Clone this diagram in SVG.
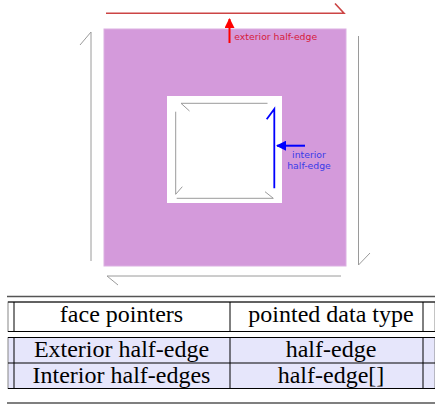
<svg xmlns="http://www.w3.org/2000/svg" width="435" height="405" viewBox="0 0 435 405">
<defs>
<style>
.he{fill:none;stroke:#9a9a9a;stroke-width:1}
.lbl{font-family:"DejaVu Sans",sans-serif;font-size:9.3px}
.tt{font-family:"Liberation Serif",serif;font-size:24px;fill:#000;text-anchor:middle}
.rule{stroke:#555;stroke-width:1.5}
.bx{stroke:#000;stroke-width:1;fill:none}
.bg{stroke:#888;stroke-width:1;fill:none}
</style>
<marker id="ar" viewBox="0 0 10 10" refX="9" refY="5" markerWidth="5" markerHeight="5" orient="auto"><path d="M0,0 L10,5 L0,10 z" fill="#ff0000"/></marker>
<marker id="ab" viewBox="0 0 10 10" refX="9" refY="5" markerWidth="5" markerHeight="5" orient="auto"><path d="M0,0 L10,5 L0,10 z" fill="#0000ff"/></marker>
</defs>
<g id="face">
<rect x="104" y="29" width="242" height="237" fill="#d49adb" stroke="#dcb0e2" stroke-width="1"/>
<rect x="167" y="96" width="115" height="107" fill="#ffffff"/>
</g>
<g id="connectors">
<path id="ext-top" d="M106,13.3 L344,13.3 L335,3.5" fill="none" stroke="#cc4444" stroke-width="1.6"/>
<path id="ext-left" class="he" d="M80,45 L91,32 L91,261"/>
<path id="ext-bottom" class="he" d="M118,285 L107,276 L341,276"/>
<path id="ext-right" class="he" d="M358.5,36 L358.5,265 L370,253"/>
<path id="int-top" class="he" d="M189.5,111 L181,103.3 L267.5,103.3"/>
<path id="int-left" class="he" d="M175.7,111.7 L175.7,194.3 L182.3,186.7"/>
<path id="int-bottom" class="he" d="M176.7,198.3 L273.3,198.3 L265,191.7"/>
<path id="int-right" d="M274.3,188.3 L274.3,109 L266.7,119.3" fill="none" stroke="#0000ff" stroke-width="1.8"/>
<line x1="229.5" y1="43" x2="229.5" y2="19" stroke="#ff0000" stroke-width="2" marker-end="url(#ar)"/>
<line x1="305" y1="145.7" x2="277" y2="145.7" stroke="#0000ff" stroke-width="2" marker-end="url(#ab)"/>
</g>
<g id="labels">
<text class="lbl" x="234.3" y="39.5" fill="#d61a3c">exterior half-edge</text>
<text class="lbl" x="309" y="157.5" fill="#3a3ae8" text-anchor="middle">interior</text>
<text class="lbl" x="309" y="169" fill="#3a3ae8" text-anchor="middle">half-edge</text>
</g>
<g id="table">
<line class="rule" x1="7" y1="296.5" x2="435" y2="296.5"/>
<rect x="8" y="302" width="427" height="29.5" fill="#ffffff" stroke="#888"/>
<line class="bx" x1="14" y1="302" x2="14" y2="331.5"/>
<line class="bx" x1="8" y1="302" x2="435" y2="302"/>
<line class="bx" x1="8" y1="331.5" x2="435" y2="331.5"/>
<line class="bx" x1="230" y1="302" x2="230" y2="331.5"/>
<line class="bx" x1="423" y1="302" x2="423" y2="331.5"/>
<rect x="8" y="337.5" width="427" height="51" fill="#e6e6fb" stroke="#888"/>
<line class="bx" x1="14" y1="337.5" x2="14" y2="388.5"/>
<line class="bx" x1="8" y1="337.5" x2="435" y2="337.5"/>
<line class="bx" x1="8" y1="363" x2="435" y2="363"/>
<line class="bx" x1="8" y1="388.5" x2="435" y2="388.5"/>
<line class="bx" x1="230" y1="337.5" x2="230" y2="388.5"/>
<line class="bx" x1="423" y1="337.5" x2="423" y2="388.5"/>
<line class="rule" x1="7" y1="403" x2="435" y2="403"/>
<text class="tt" x="121.5" y="322">face pointers</text>
<text class="tt" x="331" y="322">pointed data type</text>
<text class="tt" x="121.5" y="357">Exterior half-edge</text>
<text class="tt" x="331" y="357">half-edge</text>
<text class="tt" x="121.5" y="382.5">Interior half-edges</text>
<text class="tt" x="331" y="382.5">half-edge[]</text>
</g>
</svg>
